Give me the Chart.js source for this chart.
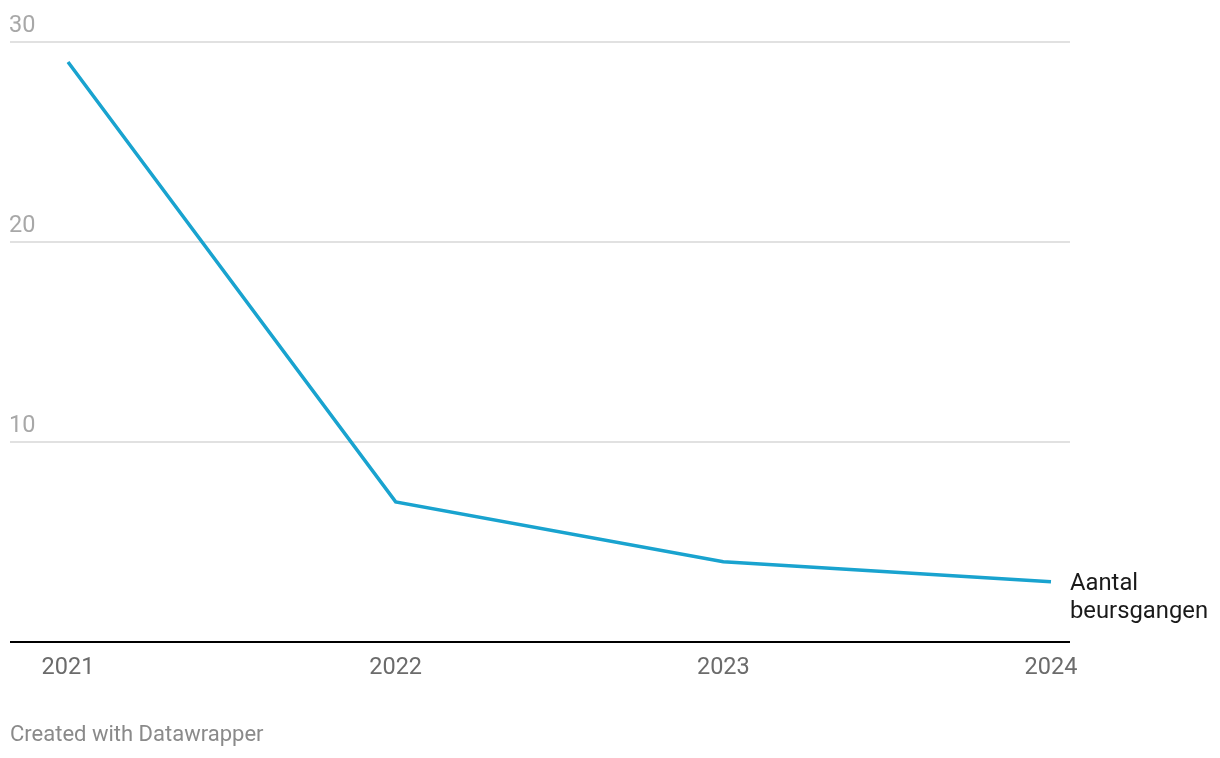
<!DOCTYPE html>
<html>
<head>
<meta charset="utf-8">
<script src="https://cdn.jsdelivr.net/npm/chart.js@4"></script>
<style>
    body { margin: 0; background: #ffffff; font-family: Roboto, sans-serif; }
    #wrap { position: relative; width: 1220px; height: 758px; }
    #footer { position: absolute; left: 10px; top: 721px; font-size: 22px; color: #8a8a8a; }
</style>
</head>
<body>
<div id="wrap">
    <canvas id="chart" width="1220" height="758"></canvas>
    <div id="footer">Created with Datawrapper</div>
</div>
<script>
// Data
const years = ['2021', '2022', '2023', '2024'];
const ipoCounts = [29, 7, 4, 3];
const yTicks = [0, 10, 20, 30];
const seriesLabel = ['Aantal', 'beursgangen'];

// Gridlines, y labels and the series label, Datawrapper style
const dwPlugin = {
    id: 'dwPlugin',
    beforeDatasetsDraw(chart) {
        const ctx = chart.ctx;
        const y = chart.scales.y;
        ctx.save();
        yTicks.forEach(v => {
            const py = Math.round(y.getPixelForValue(v));
            ctx.beginPath();
            ctx.strokeStyle = v === 0 ? '#000000' : '#e1e1e1';
            ctx.lineWidth = 2;
            ctx.moveTo(10, py);
            ctx.lineTo(1070, py);
            ctx.stroke();
            if (v !== 0) {
                ctx.fillStyle = '#a8a8a8';
                ctx.font = '23.5px Roboto';
                ctx.textAlign = 'left';
                ctx.textBaseline = 'alphabetic';
                ctx.fillText(String(v), 9, py - 10);
            }
        });
        ctx.restore();
    },
    afterDatasetsDraw(chart) {
        const ctx = chart.ctx;
        const pts = chart.getDatasetMeta(0).data;
        const last = pts[pts.length - 1];
        ctx.save();
        ctx.fillStyle = '#1a1a1a';
        ctx.font = '23.8px Roboto';
        ctx.textAlign = 'left';
        ctx.textBaseline = 'middle';
        seriesLabel.forEach((t, i) => {
            ctx.fillText(t, last.x + 19, last.y + 2 + i * 28);
        });
        ctx.restore();
    }
};

new Chart(document.getElementById('chart'), {
    type: 'line',
    data: {
        labels: years,
        datasets: [{
            label: 'Aantal beursgangen',
            data: ipoCounts,
            borderColor: '#19a3cf',
            borderWidth: 3.5,
            pointRadius: 0,
            tension: 0,
            fill: false
        }]
    },
    options: {
        responsive: false,
        animation: false,
        layout: { padding: { left: 68, right: 169, top: 42, bottom: 64 } },
        plugins: {
            legend: { display: false },
            tooltip: { enabled: false }
        },
        scales: {
            x: {
                grid: { display: false, drawTicks: false },
                border: { display: false },
                ticks: {
                    color: '#6b6b6b',
                    font: { family: 'Roboto', size: 23.5 },
                    padding: 12,
                    maxRotation: 0
                }
            },
            y: {
                display: false,
                min: 0,
                max: 30
            }
        }
    },
    plugins: [dwPlugin]
});
</script>
</body>
</html>
